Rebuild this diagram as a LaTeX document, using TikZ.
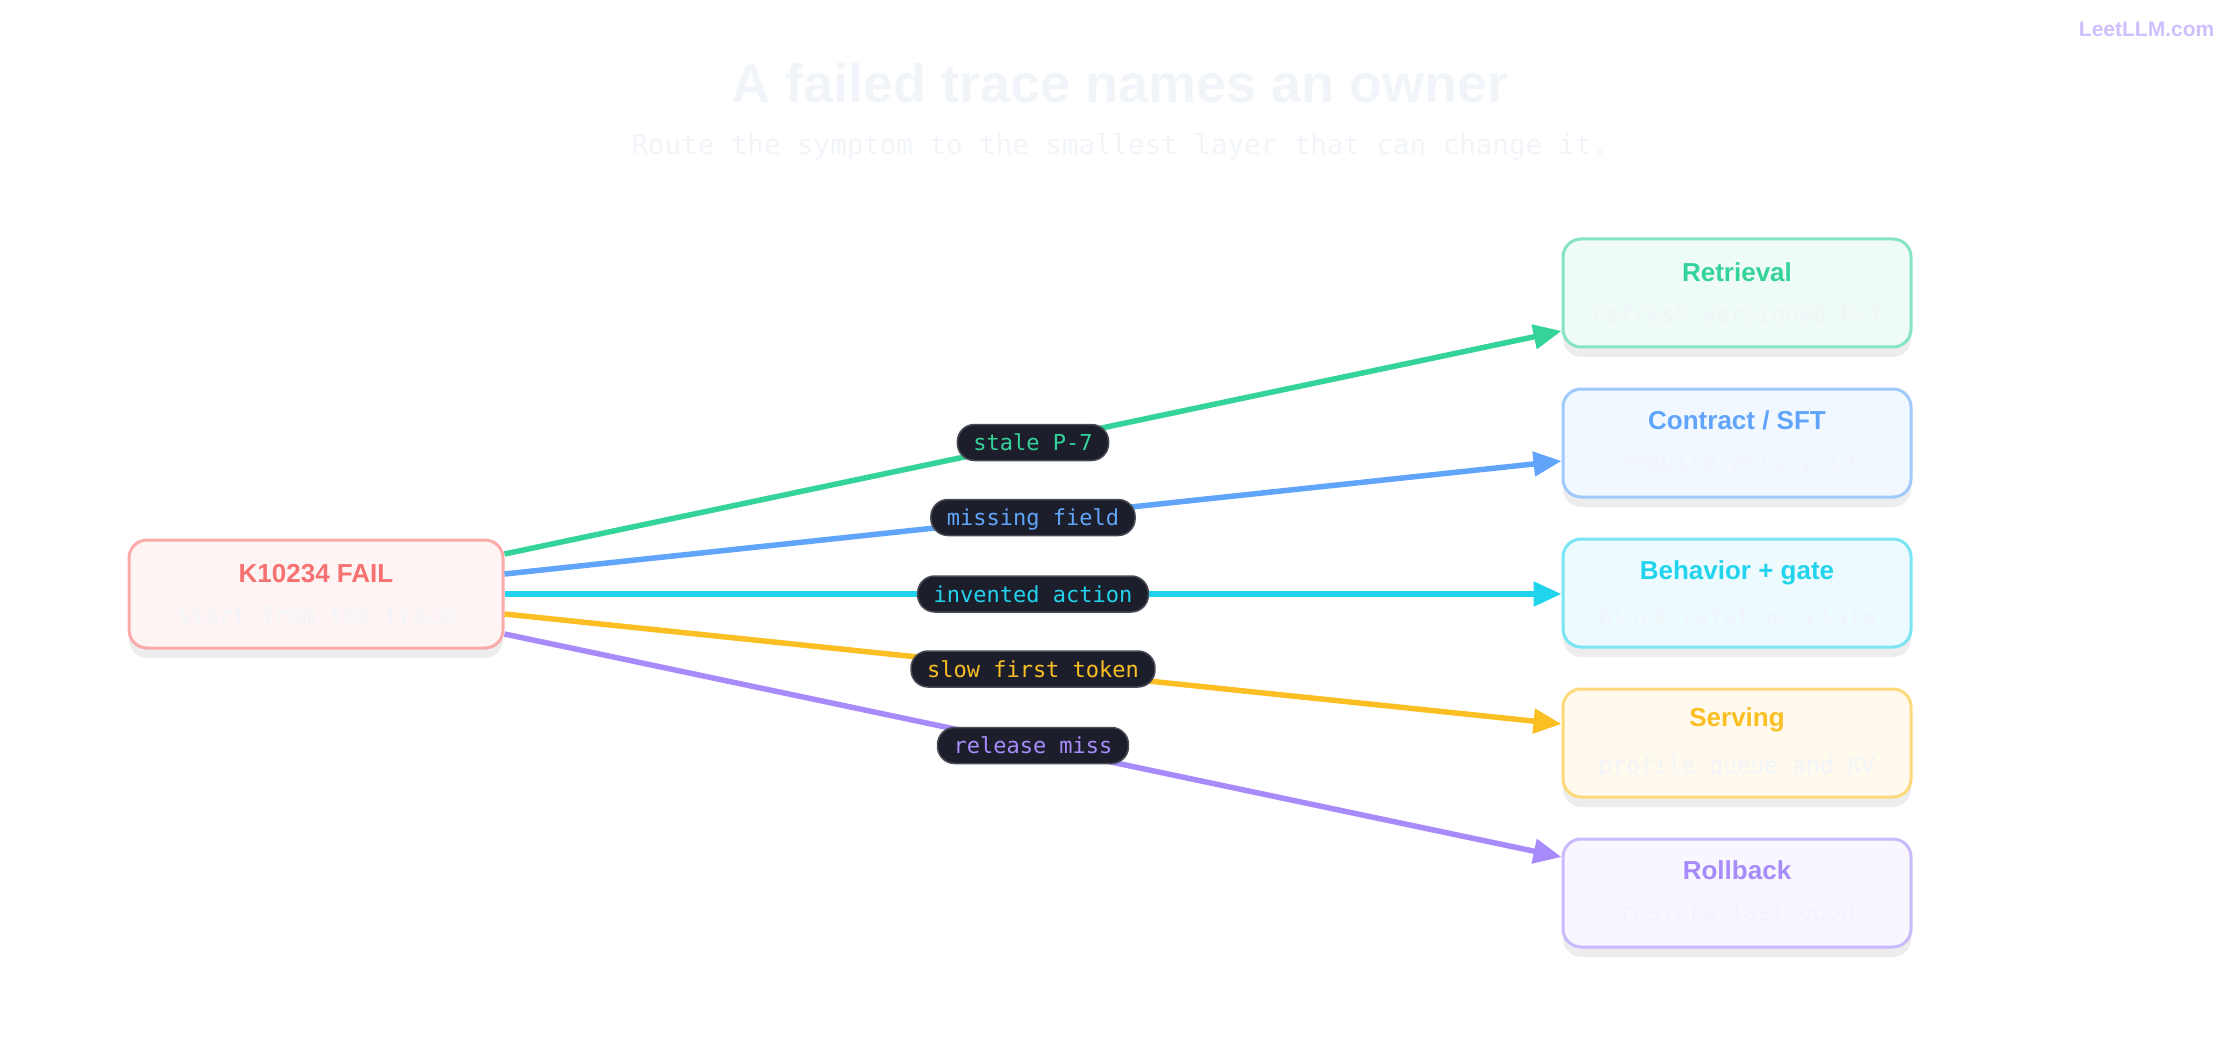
\documentclass[tikz,border=0pt]{standalone}
\usepackage{fontspec}
\setmainfont{Liberation Sans}
\setsansfont{Liberation Sans}
\setmonofont{DejaVu Sans Mono}
\usetikzlibrary{arrows.meta,shadows}

\definecolor{cRed}{HTML}{F87171}
\definecolor{cGreen}{HTML}{34D399}
\definecolor{cBlue}{HTML}{60A5FA}
\definecolor{cCyan}{HTML}{22D3EE}
\definecolor{cYellow}{HTML}{FBBF24}
\definecolor{cPurple}{HTML}{A78BFA}
\definecolor{cFaint}{HTML}{F1F5F9}
\definecolor{cPill}{HTML}{1C1F2B}

\newcommand{\cardtext}[3]{{\sffamily\bfseries\fontsize{26}{30}\selectfont\textcolor{#1}{#2}}\\[22pt]{\ttfamily\fontsize{23}{27}\selectfont\textcolor{cFaint}{#3}}}

\tikzset{every picture/.style={line width=0.75pt}}
\tikzset{
  card/.style={draw={#1!60!white}, fill={#1!8!white}, line width=3pt,
    rounded corners=18pt, minimum width=348pt, minimum height=108pt,
    drop shadow={shadow xshift=0pt, shadow yshift=-10pt, opacity=0.07, fill=black},
    align=center, inner sep=0pt},
  wire/.style={draw=#1, line width=5.5pt, -{Triangle[length=28pt,width=24pt]}},
  pill/.style={fill=cPill, draw=cPill!80!white, line width=1.5pt, rounded corners=17pt,
    text=#1, font=\ttfamily\fontsize{22}{26}\selectfont, inner xsep=16pt,
    minimum height=36pt, text depth=0pt}
}

\begin{document}
\begin{tikzpicture}[x=1pt,y=-1pt]
	\useasboundingbox (0,0) rectangle (2240,1040);

	% Title
	\node (title) at (1120,83) {\sffamily\bfseries\fontsize{54}{60}\selectfont\textcolor{cFaint}{A failed trace names an owner}};
	\node (subtitle) at (1120,147) {\ttfamily\fontsize{27.5}{31}\selectfont\textcolor{cFaint}{Route the symptom to the smallest layer that can change it.}};
	\node[anchor=east] (brand) at (2218,29) {\sffamily\bfseries\fontsize{21}{24}\selectfont\textcolor{cPurple!55!white}{LeetLLM.com}};

	% Cards
	\node[card=cRed, minimum width=374pt] (fail) at (316,594) {\cardtext{cRed}{K10234 FAIL}{start from the trace}};
	\node[card=cGreen] (retr) at (1737,293) {\cardtext{cGreen}{Retrieval}{refresh versioned P-7}};
	\node[card=cBlue] (contr) at (1737,443) {\cardtext{cBlue}{Contract / SFT}{require policy\_id}};
	\node[card=cCyan] (behav) at (1737,593) {\cardtext{cCyan}{Behavior + gate}{block rotation claim}};
	\node[card=cYellow] (serv) at (1737,743) {\cardtext{cYellow}{Serving}{profile queue and KV}};
	\node[card=cPurple] (roll) at (1737,893) {\cardtext{cPurple}{Rollback}{restore last good}};

	% Connectors
	\coordinate (f1) at ([yshift=40pt]fail.east);
	\coordinate (f2) at ([yshift=20pt]fail.east);
	\coordinate (f3) at (fail.east);
	\coordinate (f4) at ([yshift=-20pt]fail.east);
	\coordinate (f5) at ([yshift=-40pt]fail.east);
	\draw[wire=cGreen] (f1) -- ([yshift=-38pt]retr.west) node[pos=0.5, pill=cGreen] (l1) {stale P-7};
	\draw[wire=cBlue] (f2) -- ([yshift=-18pt]contr.west) node[pos=0.5, pill=cBlue] (l2) {missing field};
	\draw[wire=cCyan] (f3) -- ([yshift=-1pt]behav.west) node[pos=0.5, pill=cCyan] (l3) {invented action};
	\draw[wire=cYellow] (f4) -- ([yshift=19pt]serv.west) node[pos=0.5, pill=cYellow] (l4) {slow first token};
	\draw[wire=cPurple] (f5) -- ([yshift=36pt]roll.west) node[pos=0.5, pill=cPurple] (l5) {release miss};

\end{tikzpicture}
\end{document}
